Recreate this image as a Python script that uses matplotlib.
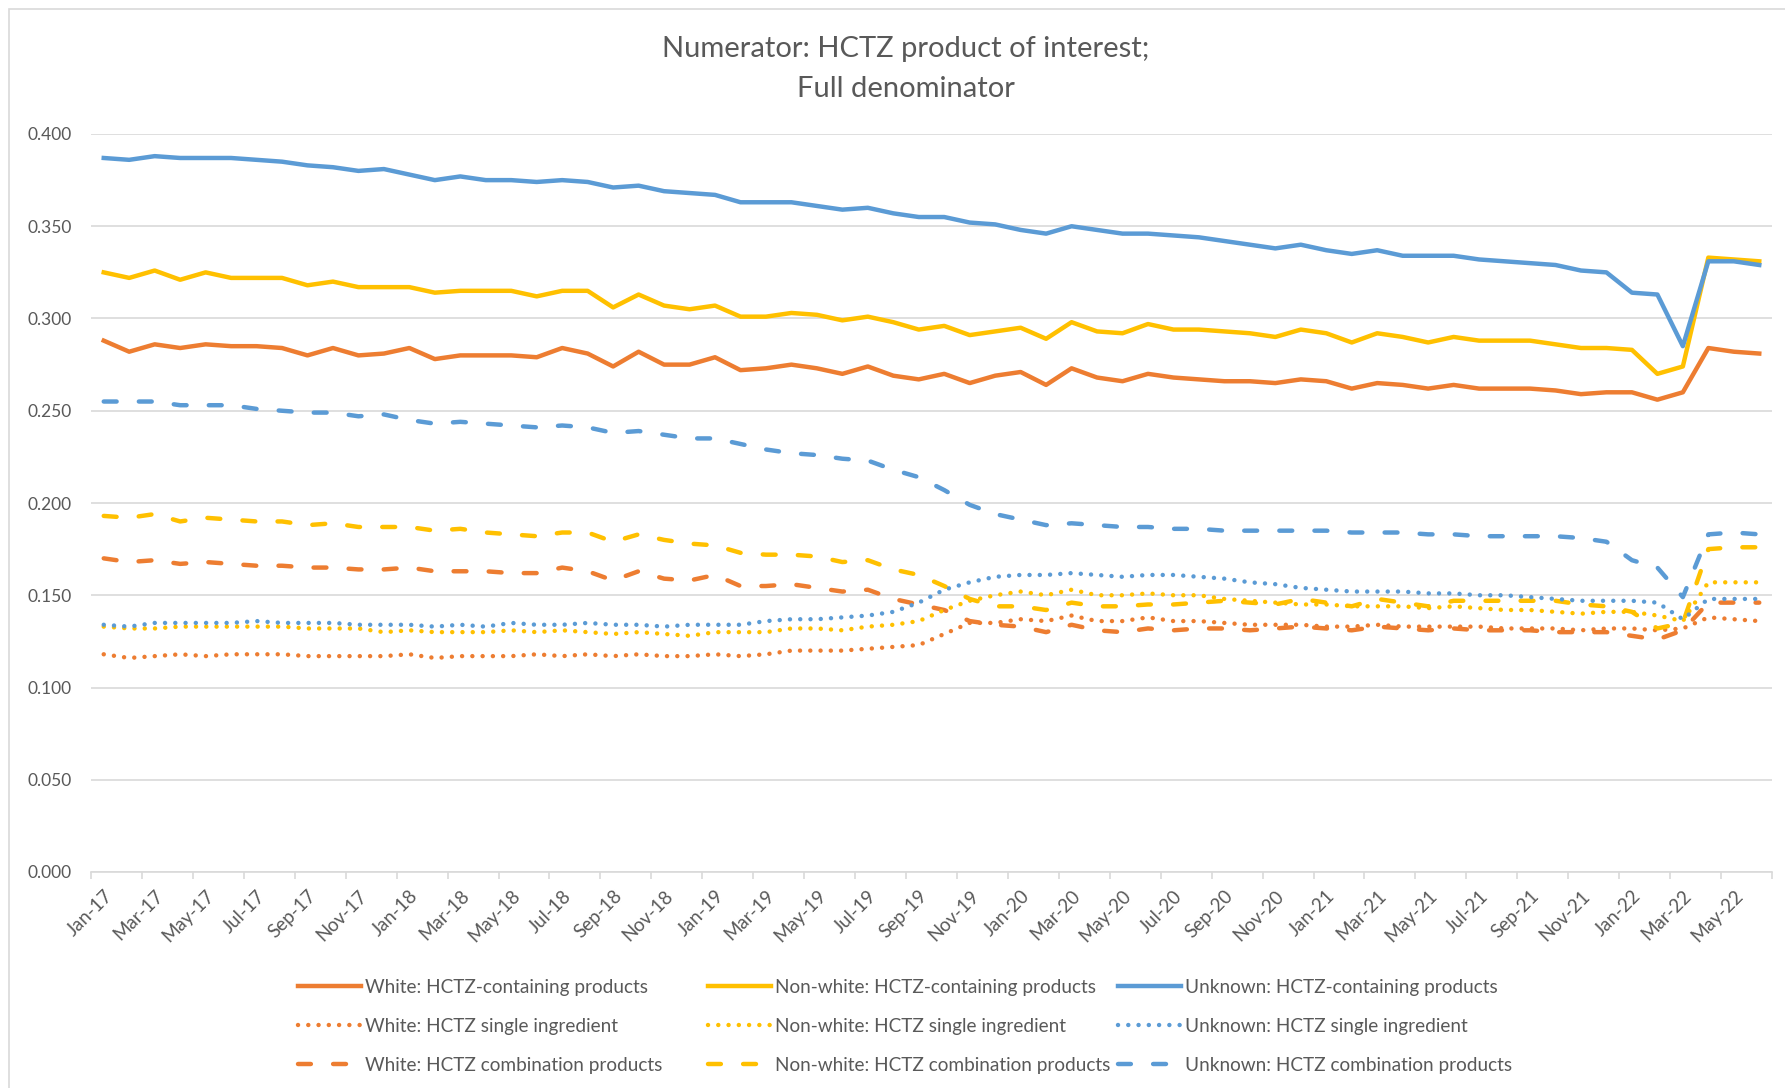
import numpy as np
import pandas as pd
import matplotlib
matplotlib.use("Agg")
import matplotlib.pyplot as plt
from matplotlib.patches import Rectangle

plt.rcParams['font.family'] = ['Lato', 'DejaVu Sans']

months = pd.date_range('2017-01-01', '2022-06-01', freq='MS').strftime('%b-%y').tolist()

white_all = [0.288, 0.282, 0.286, 0.284, 0.286, 0.285, 0.285, 0.284, 0.280, 0.284, 0.280, 0.281, 0.284, 0.278, 0.280, 0.280,
             0.280, 0.279, 0.284, 0.281, 0.274, 0.282, 0.275, 0.275, 0.279, 0.272, 0.273, 0.275, 0.273, 0.270, 0.274, 0.269,
             0.267, 0.270, 0.265, 0.269, 0.271, 0.264, 0.273, 0.268, 0.266, 0.270, 0.268, 0.267, 0.266, 0.266, 0.265, 0.267,
             0.266, 0.262, 0.265, 0.264, 0.262, 0.264, 0.262, 0.262, 0.262, 0.261, 0.259, 0.260, 0.260, 0.256, 0.260, 0.284,
             0.282, 0.281]
nonwhite_all = [0.325, 0.322, 0.326, 0.321, 0.325, 0.322, 0.322, 0.322, 0.318, 0.320, 0.317, 0.317, 0.317, 0.314, 0.315, 0.315,
                0.315, 0.312, 0.315, 0.315, 0.306, 0.313, 0.307, 0.305, 0.307, 0.301, 0.301, 0.303, 0.302, 0.299, 0.301, 0.298,
                0.294, 0.296, 0.291, 0.293, 0.295, 0.289, 0.298, 0.293, 0.292, 0.297, 0.294, 0.294, 0.293, 0.292, 0.290, 0.294,
                0.292, 0.287, 0.292, 0.290, 0.287, 0.290, 0.288, 0.288, 0.288, 0.286, 0.284, 0.284, 0.283, 0.270, 0.274, 0.333,
                0.332, 0.331]
unknown_all = [0.387, 0.386, 0.388, 0.387, 0.387, 0.387, 0.386, 0.385, 0.383, 0.382, 0.380, 0.381, 0.378, 0.375, 0.377, 0.375,
               0.375, 0.374, 0.375, 0.374, 0.371, 0.372, 0.369, 0.368, 0.367, 0.363, 0.363, 0.363, 0.361, 0.359, 0.360, 0.357,
               0.355, 0.355, 0.352, 0.351, 0.348, 0.346, 0.350, 0.348, 0.346, 0.346, 0.345, 0.344, 0.342, 0.340, 0.338, 0.340,
               0.337, 0.335, 0.337, 0.334, 0.334, 0.334, 0.332, 0.331, 0.330, 0.329, 0.326, 0.325, 0.314, 0.313, 0.285, 0.331,
               0.331, 0.329]

white_single = [0.118, 0.116, 0.117, 0.118, 0.117, 0.118, 0.118, 0.118, 0.117, 0.117, 0.117, 0.117, 0.118, 0.116, 0.117, 0.117,
                0.117, 0.118, 0.117, 0.118, 0.117, 0.118, 0.117, 0.117, 0.118, 0.117, 0.118, 0.120, 0.120, 0.120, 0.121, 0.122,
                0.123, 0.129, 0.135, 0.135, 0.137, 0.136, 0.139, 0.136, 0.136, 0.138, 0.136, 0.136, 0.135, 0.134, 0.134, 0.134,
                0.133, 0.133, 0.134, 0.133, 0.133, 0.133, 0.133, 0.132, 0.132, 0.132, 0.131, 0.132, 0.132, 0.131, 0.132, 0.138,
                0.137, 0.136]
nonwhite_single = [0.133, 0.132, 0.132, 0.133, 0.133, 0.133, 0.133, 0.133, 0.132, 0.132, 0.132, 0.130, 0.131, 0.130, 0.130, 0.130,
                   0.131, 0.130, 0.131, 0.130, 0.129, 0.130, 0.129, 0.128, 0.130, 0.130, 0.130, 0.132, 0.132, 0.131, 0.133, 0.134,
                   0.136, 0.142, 0.147, 0.150, 0.152, 0.150, 0.153, 0.150, 0.150, 0.151, 0.150, 0.150, 0.148, 0.147, 0.146, 0.145,
                   0.145, 0.144, 0.144, 0.144, 0.143, 0.144, 0.143, 0.142, 0.142, 0.141, 0.140, 0.141, 0.141, 0.139, 0.136, 0.157,
                   0.157, 0.157]
unknown_single = [0.134, 0.133, 0.135, 0.135, 0.135, 0.135, 0.136, 0.135, 0.135, 0.135, 0.134, 0.134, 0.134, 0.133, 0.134, 0.133,
                  0.135, 0.134, 0.134, 0.135, 0.134, 0.134, 0.133, 0.134, 0.134, 0.134, 0.136, 0.137, 0.137, 0.138, 0.139, 0.141,
                  0.146, 0.153, 0.157, 0.160, 0.161, 0.161, 0.162, 0.161, 0.160, 0.161, 0.161, 0.160, 0.159, 0.157, 0.156, 0.154,
                  0.153, 0.152, 0.152, 0.152, 0.151, 0.151, 0.150, 0.150, 0.149, 0.148, 0.147, 0.147, 0.147, 0.146, 0.137, 0.148,
                  0.148, 0.148]

white_combo = [0.170, 0.168, 0.169, 0.167, 0.168, 0.167, 0.166, 0.166, 0.165, 0.165, 0.164, 0.164, 0.165, 0.163, 0.163, 0.163,
               0.162, 0.162, 0.165, 0.163, 0.158, 0.163, 0.159, 0.158, 0.161, 0.155, 0.155, 0.156, 0.154, 0.152, 0.153, 0.148,
               0.145, 0.142, 0.136, 0.134, 0.133, 0.130, 0.134, 0.131, 0.130, 0.132, 0.131, 0.132, 0.132, 0.131, 0.132, 0.133,
               0.132, 0.131, 0.133, 0.132, 0.131, 0.132, 0.131, 0.131, 0.131, 0.130, 0.130, 0.130, 0.128, 0.126, 0.131, 0.146,
               0.146, 0.146]
nonwhite_combo = [0.193, 0.192, 0.194, 0.190, 0.192, 0.191, 0.190, 0.190, 0.188, 0.189, 0.187, 0.187, 0.187, 0.185, 0.186, 0.184,
                  0.183, 0.182, 0.184, 0.184, 0.179, 0.183, 0.180, 0.178, 0.177, 0.173, 0.172, 0.172, 0.171, 0.168, 0.169, 0.164,
                  0.161, 0.155, 0.148, 0.144, 0.144, 0.142, 0.146, 0.144, 0.144, 0.145, 0.145, 0.146, 0.147, 0.146, 0.145, 0.148,
                  0.146, 0.144, 0.148, 0.146, 0.144, 0.147, 0.147, 0.147, 0.147, 0.147, 0.145, 0.144, 0.141, 0.132, 0.135, 0.175,
                  0.176, 0.176]
unknown_combo = [0.255, 0.255, 0.255, 0.253, 0.253, 0.253, 0.251, 0.250, 0.249, 0.249, 0.247, 0.248, 0.245, 0.243, 0.244, 0.243,
                 0.242, 0.241, 0.242, 0.241, 0.238, 0.239, 0.237, 0.235, 0.235, 0.232, 0.229, 0.227, 0.226, 0.224, 0.223, 0.218,
                 0.214, 0.207, 0.199, 0.194, 0.191, 0.188, 0.189, 0.188, 0.187, 0.187, 0.186, 0.186, 0.185, 0.185, 0.185, 0.185,
                 0.185, 0.184, 0.184, 0.184, 0.183, 0.183, 0.182, 0.182, 0.182, 0.182, 0.181, 0.179, 0.169, 0.165, 0.149, 0.183,
                 0.184, 0.183]

orange = '#ED7D31'
gold = '#FFC000'
blue = '#5B9BD5'
grey = '#595959'
lw = 3.2

series = [
    ("White: HCTZ-containing products", white_all, orange, 'solid'),
    ("White: HCTZ single ingredient", white_single, orange, 'dot'),
    ("White: HCTZ combination products", white_combo, orange, 'dash'),
    ("Non-white: HCTZ-containing products", nonwhite_all, gold, 'solid'),
    ("Non-white: HCTZ single ingredient", nonwhite_single, gold, 'dot'),
    ("Non-white: HCTZ combination products", nonwhite_combo, gold, 'dash'),
    ("Unknown: HCTZ-containing products", unknown_all, blue, 'solid'),
    ("Unknown: HCTZ single ingredient", unknown_single, blue, 'dot'),
    ("Unknown: HCTZ combination products", unknown_combo, blue, 'dash'),
]

fig = plt.figure(figsize=(17.85, 10.88), dpi=100)
ax = fig.add_axes([91 / 1785, 1 - 872 / 1088, 1681 / 1785, 738 / 1088])

# light chart-area border (left and top visible in the original)
fig.patches.append(Rectangle((9 / 1785, -0.1), 1.2, 1 - 9 / 1088 + 0.1, transform=fig.transFigure,
                             fill=False, edgecolor='#D9D9D9', linewidth=1.2))

x = np.arange(len(months))
handles = []
for name, vals, col, style in series:
    line, = ax.plot(x, vals, color=col, linewidth=lw, label=name, solid_joinstyle='round')
    if style == 'dot':
        line.set_dashes((0.01, 2.3))
        line.set_dash_capstyle('round')
    elif style == 'dash':
        line.set_dashes((2.9, 5.0))
        line.set_dash_capstyle('round')
    handles.append(line)

ax.set_xlim(-0.5, len(months) - 0.5)
ax.set_ylim(0, 0.4)
ax.set_yticks(np.arange(0, 0.401, 0.05))
ax.set_yticklabels([f"{v:.3f}" for v in np.arange(0, 0.401, 0.05)])
ax.yaxis.grid(True, color='#D9D9D9', linewidth=1.2)
ax.set_axisbelow(True)
for s in ['top', 'right', 'left']:
    ax.spines[s].set_visible(False)
ax.spines['bottom'].set_color('#D9D9D9')
ax.spines['bottom'].set_linewidth(1.2)
ax.tick_params(axis='y', length=0, pad=14, labelsize=12.5, labelcolor=grey)

ax.set_xticks(x[::2])
ax.set_xticklabels(months[::2], rotation=45, ha='right', va='top', rotation_mode='anchor')
ax.set_xticks(np.arange(-0.5, len(months), 2), minor=True)
ax.tick_params(axis='x', which='major', length=0, pad=11, labelsize=13.5, labelcolor=grey)
ax.tick_params(axis='x', which='minor', length=5, width=1.2, color='#D9D9D9', direction='out')

fig.text(906 / 1785, 1 - 49 / 1088, "Numerator: HCTZ product of interest;", ha='center', va='center',
         fontsize=21, color=grey)
fig.text(906 / 1785, 1 - 89 / 1088, "Full denominator", ha='center', va='center', fontsize=21, color=grey)

leg_x = [298, 708, 1118]
for k in range(3):
    fig.legend(handles=handles[3 * k:3 * k + 3], loc='upper left',
               bbox_to_anchor=(leg_x[k] / 1785, 1 - 979 / 1088), frameon=False,
               fontsize=13.7, labelcolor=grey, handlelength=3.3, handletextpad=0.24,
               borderpad=0, borderaxespad=0, labelspacing=1.15)

plt.savefig('out.png', dpi=100)
